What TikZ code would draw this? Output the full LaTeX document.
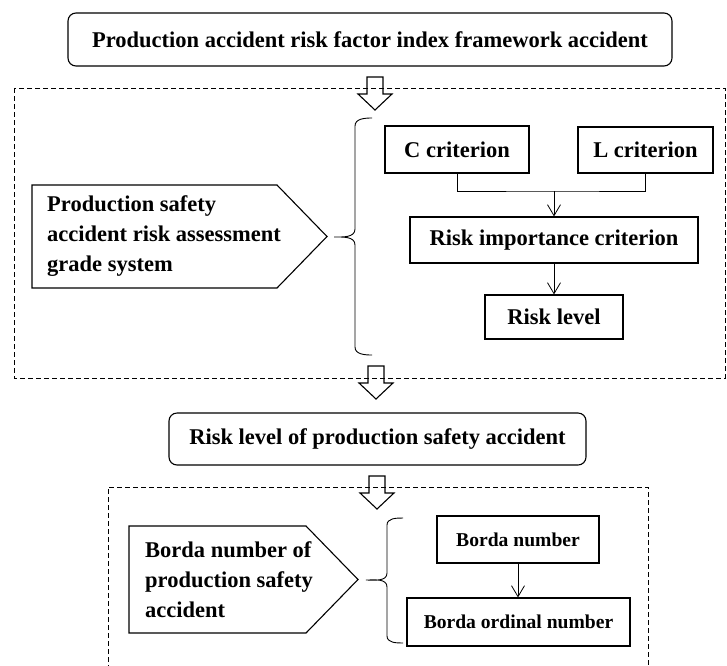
\documentclass[tikz,border=0pt]{standalone}
\usepackage{fontspec}
\setmainfont{Liberation Serif}
\usetikzlibrary{arrows.meta, positioning, calc}

\tikzset{
  plainbox/.style={draw, line width=1.1pt, inner sep=0pt, font=\fontsize{22.5}{27}\selectfont\bfseries},
  smallbox/.style={plainbox, font=\fontsize{19.6}{24}\selectfont\bfseries},
  roundbox/.style={plainbox, rounded corners=8pt},
  pentext/.style={anchor=west, inner sep=0pt, align=left, font=\fontsize{22.5}{30}\selectfont\bfseries},
  flowarrow/.style={line width=0.8pt, -{Straight Barb[length=11pt,width=13pt]}},
  framebox/.style={line width=0.8pt, dash pattern=on 5pt off 3pt},
  brace/.style={line width=0.9pt},
  hollowdown/.pic={\draw[line width=1.1pt] (-8,0) -- (8,0) -- (8,17) -- (17,17) -- (0,33) -- (-17,17) -- (-8,17) -- cycle;}
}

\begin{document}
\begin{tikzpicture}[x=1pt, y=-1pt]
\useasboundingbox (0,0) rectangle (727,665);

% top of the flow
\node[roundbox, minimum width=604pt, minimum height=53pt] (frame) at (370,39.5) {Production accident risk factor index framework accident};
\pic at (375,77) {hollowdown};

% grade system part
\draw[framebox] (14,88) rectangle (725,378);
\draw[line width=1.1pt] (32,185) -- (277,185) -- (327,236.5) -- (277,288) -- (32,288) -- cycle;
\node[pentext] (grade) at (47,236.5) {Production safety\\accident risk assessment\\grade system};
\draw[brace] (372,118) to[out=180,in=90] (355,126) -- (355,229) to[out=-90,in=0] (334,237) to[out=0,in=90] (355,245) -- (355,347) to[out=-90,in=180] (372,355);

\node[plainbox, minimum width=144pt, minimum height=47pt] (critC) at (457,149.5) {C criterion};
\node[plainbox, minimum width=135pt, minimum height=46pt] (critL) at (645.5,150) {L criterion};
\node[plainbox, minimum width=288pt, minimum height=46pt] (riskImp) at (554,240) {Risk importance criterion};
\node[plainbox, minimum width=138pt, minimum height=44pt] (riskLvl) at (554,317) {Risk level};
\coordinate (join) at (554,191);
\draw[line width=0.8pt] (critC.south) |- (join) -| (critL.south);
\draw[flowarrow] (join) -- (riskImp.north);
\draw[flowarrow] (riskImp) -- (riskLvl);

\pic at (376,366) {hollowdown};

% risk level result
\node[roundbox, minimum width=417pt, minimum height=52pt] (result) at (377.5,439) {Risk level of production safety accident};
\pic at (377,476) {hollowdown};

% borda part
\draw[framebox] (108,670) -- (108,487) -- (648,487) -- (648,670);
\draw[line width=1.1pt] (129,526) -- (306,526) -- (358,579.5) -- (306,633) -- (129,633) -- cycle;
\node[pentext] (borda) at (145,579.5) {Borda number of\\production safety\\accident};
\draw[brace] (403,518) to[out=180,in=90] (387,525) -- (387,573) to[out=-90,in=0] (366,580) to[out=0,in=90] (387,587) -- (387,636) to[out=-90,in=180] (403,643);

\node[smallbox, minimum width=162pt, minimum height=47pt] (bordaNum) at (518,539.5) {Borda number};
\node[smallbox, minimum width=223pt, minimum height=48pt] (bordaOrd) at (518.5,622) {Borda ordinal number};
\draw[flowarrow] (bordaNum) -- (bordaOrd.north -| bordaNum);
\end{tikzpicture}
\end{document}
